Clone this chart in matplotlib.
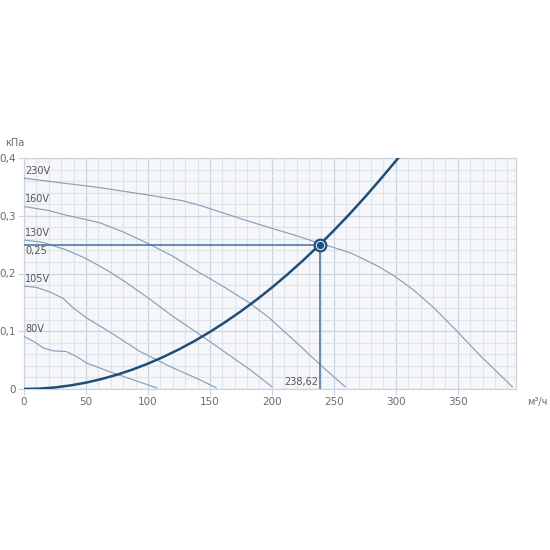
#!/usr/bin/env python3
"""
Fan performance curves with system curve and operating point
"""

import numpy as np
import matplotlib.pyplot as plt
from matplotlib.ticker import MultipleLocator, FuncFormatter

# Fan curves (flow m3/h, pressure kPa)
q_230 = [0, 30, 60, 100, 128, 142, 162, 182, 202, 222, 238.6, 250, 263, 275, 287, 300, 314, 330, 349, 368, 394]
p_230 = [0.365, 0.357, 0.349, 0.336, 0.326, 0.318, 0.304, 0.290, 0.277, 0.264, 0.252, 0.245, 0.236, 0.224, 0.211, 0.194, 0.172, 0.142, 0.101, 0.058, 0.004]

q_160 = [0, 20, 34, 61, 80, 101, 120, 142, 162, 182, 198, 220, 239, 259]
p_160 = [0.316, 0.309, 0.301, 0.288, 0.272, 0.251, 0.230, 0.201, 0.176, 0.149, 0.123, 0.080, 0.042, 0.004]

q_130 = [0, 15, 34, 50, 66.7, 80, 100, 120, 142, 162, 182, 200]
p_130 = [0.258, 0.254, 0.241, 0.226, 0.206, 0.188, 0.158, 0.126, 0.094, 0.064, 0.034, 0.004]

q_105 = [0, 10, 21, 31.5, 40, 50.5, 69, 93.5, 117.7, 142, 155]
p_105 = [0.178, 0.176, 0.168, 0.157, 0.140, 0.123, 0.099, 0.065, 0.039, 0.016, 0.002]

q_80 = [0, 8, 15.6, 23.7, 34, 42.5, 50.5, 69, 88, 107]
p_80 = [0.091, 0.082, 0.071, 0.066, 0.065, 0.056, 0.045, 0.030, 0.016, 0.002]

speed_labels = ['230V', '160V', '130V', '105V', '80V']

# System curve
q_sys = [0, 12.5, 25, 37.5, 50, 62.5, 75, 87.5, 100, 112.5, 125, 137.5, 150, 162.5, 175,
         187.5, 200, 212.5, 225, 238.62, 250, 262.5, 275, 287.5, 302]
p_sys = [0.0, 0.0007, 0.0027, 0.0062, 0.011, 0.0172, 0.0247, 0.0336, 0.0439, 0.0556, 0.0686,
         0.083, 0.0988, 0.116, 0.1345, 0.1543, 0.1756, 0.1983, 0.2223, 0.25, 0.2744, 0.3025,
         0.332, 0.3629, 0.4]

# Operating point
q_op = 238.62
p_op = 0.25

x_ticks = [0, 50, 100, 150, 200, 250, 300, 350]
y_ticks = [0, 0.1, 0.2, 0.3, 0.4]


def fmt_comma(v, pos):
    if abs(v) < 1e-9:
        return '0'
    return f'{v:g}'.replace('.', ',')


def main():
    fig = plt.figure(figsize=(5.5, 5.5), dpi=100)
    ax = fig.add_axes([24 / 550, 1 - 389 / 550, (516 - 24) / 550, (389 - 158) / 550])
    ax.set_facecolor('#f5f7fa')

    ax.set_xlim(0, 397)
    ax.set_ylim(0, 0.4)
    ax.set_xticks(x_ticks)
    ax.set_yticks(y_ticks)
    ax.xaxis.set_minor_locator(MultipleLocator(10))
    ax.yaxis.set_minor_locator(MultipleLocator(0.02))
    ax.grid(which='minor', color='#dfe4ea', linewidth=0.8)
    ax.grid(which='major', color='#cdd4dc', linewidth=0.9)
    ax.set_axisbelow(True)

    for s in ax.spines.values():
        s.set_color('#cdd4dc')
        s.set_linewidth(0.9)

    ax.xaxis.set_major_formatter(FuncFormatter(fmt_comma))
    ax.yaxis.set_major_formatter(FuncFormatter(fmt_comma))
    ax.tick_params(which='major', length=4, color='#cdd4dc', labelsize=7.5, labelcolor='#6b6b6b', pad=2)
    ax.tick_params(which='minor', length=0)

    curve_color = '#8a9fb7'
    curves = [(q_230, p_230), (q_160, p_160), (q_130, p_130), (q_105, p_105), (q_80, p_80)]
    for (q, p), lab in zip(curves, speed_labels):
        ax.plot(q, p, color=curve_color, linewidth=0.85, zorder=3)
        ax.text(1, p[0] + 0.004, lab, fontsize=7, color='#555555', ha='left', va='bottom', zorder=5)

    # system curve
    ax.plot(q_sys, p_sys, color='#1f4e79', linewidth=1.8, zorder=4)

    # operating point guide lines
    op_color = '#4f79a6'
    ax.plot([0, q_op], [p_op, p_op], color=op_color, linewidth=1.2, zorder=3)
    ax.plot([q_op, q_op], [0, p_op], color=op_color, linewidth=1.2, zorder=3)
    ax.plot(q_op, p_op, 'o', markersize=9, markerfacecolor='#1f4e79', markeredgecolor='#1f4e79', zorder=6)
    ax.plot(q_op, p_op, 'o', markersize=6, markerfacecolor='none', markeredgecolor='#dfe8f2',
            markeredgewidth=0.8, zorder=7)

    ax.text(1, p_op - 0.003, fmt_comma(p_op, None), fontsize=7, color='#555555', ha='left', va='top', zorder=5)
    ax.text(q_op - 1.5, 0.003, f'{q_op:.2f}'.replace('.', ','), fontsize=7, color='#555555',
            ha='right', va='bottom', zorder=5)

    # axis units
    fig.text(5 / 550, 1 - 143 / 550, 'кПа', fontsize=7, color='#6b6b6b', ha='left', va='center')
    fig.text(537 / 550, 1 - 402 / 550, 'м³/ч', fontsize=7, color='#6b6b6b', ha='center', va='center')

    fig.savefig('out.png', dpi=100, facecolor='white')
    plt.close(fig)


if __name__ == "__main__":
    main()
